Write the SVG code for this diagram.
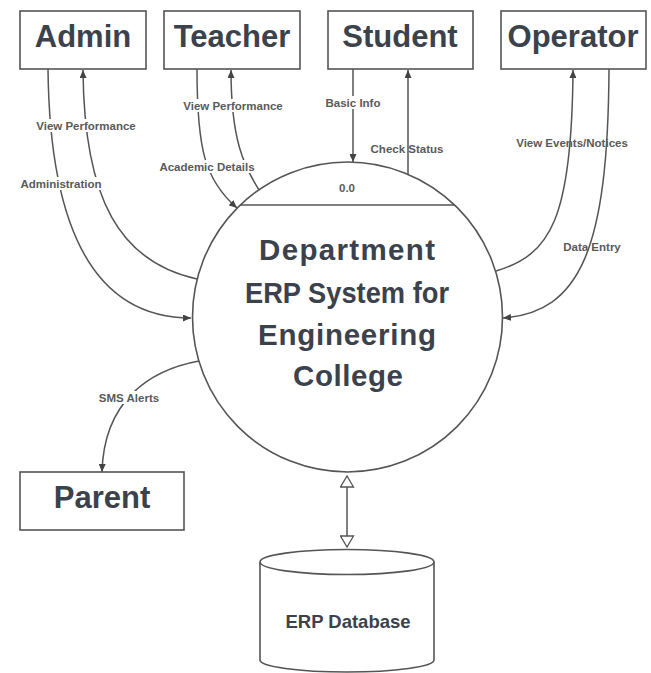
<svg xmlns="http://www.w3.org/2000/svg" width="651" height="673" viewBox="0 0 651 673">
<style>
.box{fill:#fff;stroke:#555;stroke-width:1.6}
.bt{font-family:"Liberation Sans",Arial,sans-serif;font-weight:bold;font-size:31px;fill:#3b424c;text-anchor:middle}
.ct{font-family:"Liberation Sans",Arial,sans-serif;font-weight:bold;font-size:29.5px;fill:#3b424c;text-anchor:middle}
.lbl{font-family:"Liberation Sans",Arial,sans-serif;font-weight:bold;font-size:11.5px;fill:#5a5a5a;text-anchor:middle}
.bg{fill:#fff}
.ln{fill:none;stroke:#555;stroke-width:1.5}
</style>
<defs>
<marker id="arr" viewBox="0 0 8 7" refX="8" refY="3.5" markerWidth="8" markerHeight="7" markerUnits="userSpaceOnUse" orient="auto"><path d="M0,0 L8,3.5 L0,7 z" fill="#444"/></marker>
<marker id="tri" viewBox="-1 -1 13 15" refX="11" refY="6.5" markerWidth="13" markerHeight="15" markerUnits="userSpaceOnUse" orient="auto-start-reverse"><path d="M0,0 L11,6.5 L0,13 z" fill="#fff" stroke="#555" stroke-width="1.3"/></marker>
</defs>
<rect width="651" height="673" fill="#fff"/>

<g id="connectors">
<path class="ln" d="M48,69 C50,255 110,318 191,318" marker-end="url(#arr)"/>
<path class="ln" d="M197,279 C120,262 84,200 83,70" marker-end="url(#arr)"/>
<path class="ln" d="M197,69 C197,150 205,180 237,208" marker-end="url(#arr)"/>
<path class="ln" d="M259,190 C244,166 231,140 231,70" marker-end="url(#arr)"/>
<path class="ln" d="M353,69 L353,162" marker-end="url(#arr)"/>
<path class="ln" d="M408,174 L408,70" marker-end="url(#arr)"/>
<path class="ln" d="M496,271 C550,255 572,220 573,70" marker-end="url(#arr)"/>
<path class="ln" d="M609,69 C608,250 580,312 503,318" marker-end="url(#arr)"/>
<path class="ln" d="M199,361 C150,370 104,400 102,472" marker-end="url(#arr)"/>
<path class="ln" d="M347,476 L347,547" marker-start="url(#tri)" marker-end="url(#tri)"/>
</g>

<g id="labels">
<rect class="bg" x="32" y="119" width="108" height="13"/>
<text class="lbl" x="86" y="130">View Performance</text>
<rect class="bg" x="17" y="177" width="88" height="13"/>
<text class="lbl" x="61" y="188">Administration</text>
<rect class="bg" x="178" y="99" width="110" height="13"/>
<text class="lbl" x="233" y="110">View Performance</text>
<rect class="bg" x="155" y="160" width="104" height="13"/>
<text class="lbl" x="207" y="171">Academic Details</text>
<rect class="bg" x="322" y="96" width="62" height="13"/>
<text class="lbl" x="353" y="107">Basic Info</text>
<text class="lbl" x="407" y="153">Check Status</text>
<text class="lbl" x="572" y="147">View Events/Notices</text>
<text class="lbl" x="592" y="251">Data Entry</text>
<rect class="bg" x="96" y="391" width="67" height="13"/>
<text class="lbl" x="129" y="402">SMS Alerts</text>
</g>

<g id="admin"><rect class="box" x="20" y="11" width="126" height="58"/><text class="bt" x="83" y="47">Admin</text></g>
<g id="teacher"><rect class="box" x="164" y="11" width="136" height="58"/><text class="bt" x="232" y="47">Teacher</text></g>
<g id="student"><rect class="box" x="328" y="11" width="145" height="58"/><text class="bt" x="400" y="47">Student</text></g>
<g id="operator"><rect class="box" x="501" y="11" width="145" height="58"/><text class="bt" x="573" y="47">Operator</text></g>
<g id="parent"><rect class="box" x="20" y="472" width="164" height="58"/><text class="bt" x="102" y="508">Parent</text></g>

<g id="process">
<circle cx="347.5" cy="317" r="155" fill="#fff" stroke="#555" stroke-width="1.6"/>
<line x1="240" y1="205" x2="455" y2="205" stroke="#555" stroke-width="1.5"/>
<text class="lbl" x="347" y="192" font-size="12.5">0.0</text>
<text class="ct" x="347" y="260" textLength="176">Department</text>
<text class="ct" x="347" y="303" textLength="204" lengthAdjust="spacingAndGlyphs">ERP System for</text>
<text class="ct" x="347" y="345" textLength="178">Engineering</text>
<text class="ct" x="348" y="386" textLength="110">College</text>
</g>

<g id="database">
<path d="M260,562 L260,660 A87,12 0 0 0 434,660 L434,562" fill="#fff" stroke="#555" stroke-width="1.6"/>
<ellipse cx="347" cy="562" rx="87" ry="12.5" fill="#fff" stroke="#555" stroke-width="1.6"/>
<text x="348" y="628" font-family="Liberation Sans, Arial, sans-serif" font-weight="bold" font-size="18.5" fill="#3b424c" text-anchor="middle">ERP Database</text>
</g>
</svg>
